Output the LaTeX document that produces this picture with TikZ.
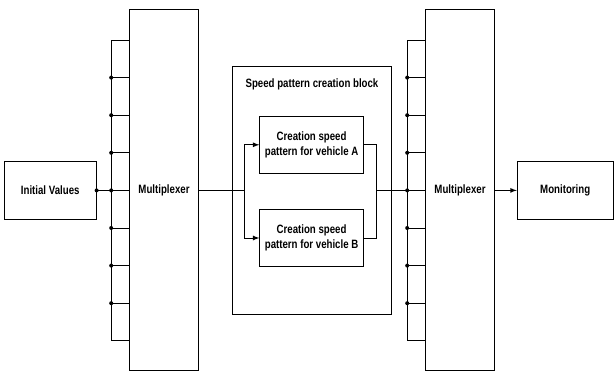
\documentclass[tikz,border=0pt]{standalone}
\usepackage{fontspec}
\setmainfont{Liberation Sans}[FakeStretch=0.8]
\usepackage{tikz}
\usetikzlibrary{arrows,positioning}
\tikzset{
  blk/.style={draw, line width=0.6pt, align=center, minimum width=2.3cm, minimum height=1.43cm,
    font=\bfseries\fontsize{8.6}{10.2}\selectfont},
  mux/.style={blk, minimum width=1.72cm, minimum height=9.04cm},
  dot/.style={circle, fill, inner sep=0pt, minimum size=0.1cm},
  wire/.style={line width=0.6pt},
}

\begin{document}
\begin{tikzpicture}
\useasboundingbox (0,0) rectangle (15.35,9.3);
\node[blk] (init) at (1.255,4.54) {Initial Values};
\node[mux] (muxa) at (4.10,4.55) {Multiplexer};
\node[draw, line width=0.6pt, minimum width=3.98cm, minimum height=6.18cm] (blockbox) at (7.80,4.54) {};
\node[font=\bfseries\fontsize{8.6}{10.2}\selectfont] (blocktitle) at (7.80,7.18) {Speed pattern creation block};
\node[blk, minimum width=2.59cm, minimum height=1.42cm] (creaA) at (7.79,5.68) {Creation speed\\pattern for vehicle A};
\node[blk, minimum width=2.59cm, minimum height=1.42cm] (creaB) at (7.79,3.35) {Creation speed\\pattern for vehicle B};
\node[mux] (muxb) at (11.50,4.55) {Multiplexer};
\node[blk, minimum width=2.4cm] (monitor) at (14.13,4.54) {Monitoring};
% bus lines in front of both multiplexers
\foreach \i in {-4,...,4}{
  \coordinate (ba\i) at (2.78,4.54+0.94*\i);
  \coordinate (bb\i) at (10.18,4.54+0.94*\i);
  \draw[wire] (ba\i) -- (ba\i -| muxa.west);
  \draw[wire] (bb\i) -- (bb\i -| muxb.west);
}
\draw[wire] (ba-4) -- (ba4);
\draw[wire] (bb-4) -- (bb4);
\foreach \i in {-3,...,3}{
  \node[dot] (da\i) at (ba\i) {};
  \node[dot] (db\i) at (bb\i) {};
}
\node[dot] (dinit) at (init.east) {};
\draw[wire] (init.east) -- (ba0);
% split and merge around the creation blocks
\coordinate (split) at (6.11,4.54);
\coordinate (merge) at (9.41,4.54);
\draw[wire] (split -| muxa.east) -- (split);
\draw[wire,-latex] (split) |- (creaA.west);
\draw[wire,-latex] (split) |- (creaB.west);
\draw[wire] (creaA.east) -| (merge);
\draw[wire] (creaB.east) -| (merge);
\draw[wire] (merge) -- (bb0);
\draw[wire,-latex] (bb0 -| muxb.east) -- (monitor.west);
\end{tikzpicture}
\end{document}
